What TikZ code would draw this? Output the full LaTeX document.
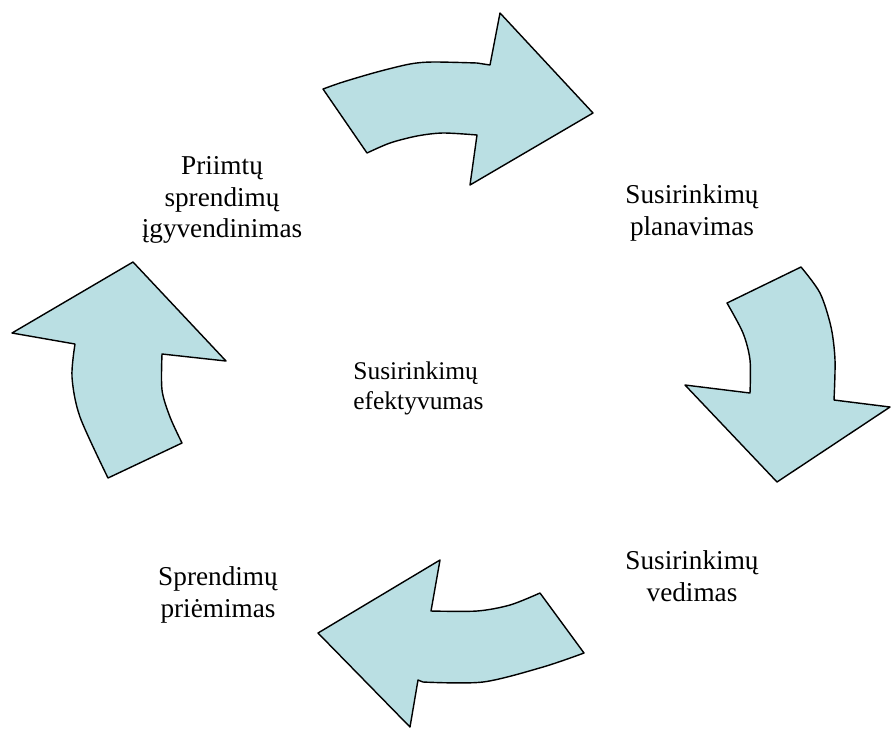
\documentclass[tikz,border=0pt]{standalone}
\usepackage{fontspec}
\setmainfont{Liberation Serif}
\definecolor{arrowfill}{RGB}{186,223,227}
\tikzset{
  cyclearrow/.style={draw=black, fill=arrowfill, line width=0.8pt, line join=round},
  lbl/.style={align=center, inner sep=0pt, font=\fontsize{15.5}{18}\selectfont},
  clbl/.style={align=left, inner sep=0pt, font=\fontsize{14.5}{17}\selectfont}
}
\begin{document}
\begin{tikzpicture}[x=0.02cm,y=-0.02cm]
\useasboundingbox (0,0) rectangle (891,728);
% top arrow (pointing right)
\draw[cyclearrow] (323,89) -- plot[smooth] coordinates {(323,89) (343,82) (377,72) (410,64) (433,62) (477,63)} -- (490,65) -- (500,13) -- (593,113) -- (470,185) -- (477,135) -- plot[smooth] coordinates {(477,135) (443,133) (417,136) (390,143) (367,153)} -- cycle;
% right arrow (pointing down)
\draw[cyclearrow] (727,303) -- (801,267) -- plot[smooth] coordinates {(801,267) (820,293) (831,327) (835,360) (834,400)} -- (890,407) -- (777,482) -- (685,385) -- (750,393) -- plot[smooth] coordinates {(750,393) (750,360) (743,333) (727,303)} -- cycle;
% bottom arrow (pointing left)
\draw[cyclearrow] (540,593) -- (584,653) -- plot[smooth] coordinates {(584,653) (543,667) (483,682) (423,682)} -- (418,680) -- (410,727) -- (318,633) -- (440,560) -- (431,611) -- plot[smooth] coordinates {(431,611) (477,611) (510,605) (540,593)} -- cycle;
% left arrow (pointing up)
\draw[cyclearrow] (108,478) -- (182,443) -- plot[smooth] coordinates {(182,443) (170,417) (162,390) (162,354)} -- (226,361) -- (133,262) -- (12,333) -- (75,344) -- plot[smooth] coordinates {(75,344) (72,377) (80,417) (108,478)} -- cycle;
% labels
\node[lbl] (impl) at (222,200) {Priimtų\\sprendimų\\įgyvendinimas};
\node[lbl] (plan) at (692,213) {Susirinkimų\\planavimas};
\node[clbl, anchor=west] (eff) at (353,388) {Susirinkimų\\efektyvumas};
\node[lbl] (ved) at (692,576) {Susirinkimų\\vedimas};
\node[lbl] (prie) at (218,595) {Sprendimų\\priėmimas};
\end{tikzpicture}
\end{document}
